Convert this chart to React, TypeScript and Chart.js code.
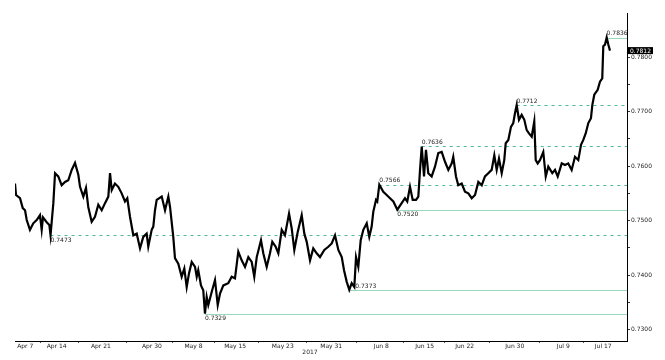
import React, { useEffect, useRef } from "react";
import { Chart, registerables } from "chart.js";
Chart.register(...registerables);

// Trading-session position (days from start) and price
const sessionX = [
  0, 0.12, 0.59, 0.91, 1.18, 1.38, 1.76, 2.15, 2.55, 2.94,
  3.14, 3.29, 3.73, 4.04, 4.18, 4.51, 4.71, 5.09, 5.49, 5.88,
  6.27, 6.67, 7.06, 7.45, 7.65, 8.04, 8.35, 8.62, 9.02, 9.41,
  9.8, 10.2, 10.59, 10.98, 11.18, 11.38, 11.76, 12.15, 12.55, 12.94,
  13.21, 13.53, 13.92, 14.32, 14.71, 15.09, 15.49, 15.68, 16.08, 16.27,
  16.47, 16.67, 17.26, 17.65, 18.04, 18.24, 18.62, 18.82, 19.21, 19.61,
  19.92, 20.2, 20.47, 20.79, 21.18, 21.38, 21.56, 21.88, 22.15, 22.35,
  22.55, 22.74, 23.14, 23.53, 23.85, 24.12, 24.51, 25.09, 25.49, 25.88,
  26.27, 26.67, 27.06, 27.45, 27.85, 28.15, 28.44, 28.94, 29.21, 29.61,
  30.0, 30.27, 30.67, 30.98, 31.38, 31.76, 32.24, 32.55, 32.86, 33.26,
  33.73, 34.04, 34.32, 34.71, 35.09, 35.49, 35.88, 36.39, 36.86, 37.26,
  37.65, 38.04, 38.44, 38.71, 39.02, 39.33, 39.61, 39.92, 40.12, 40.39,
  40.67, 40.98, 41.38, 41.68, 41.96, 42.15, 42.47, 42.62, 42.86, 43.33,
  43.73, 44.12, 44.51, 44.98, 45.49, 45.88, 46.15, 46.47, 46.79, 47.18,
  47.45, 47.65, 47.85, 48.12, 48.35, 48.62, 49.02, 49.41, 49.8, 50.2,
  50.59, 50.98, 51.38, 51.56, 51.88, 52.15, 52.55, 52.94, 53.33, 53.73,
  54.12, 54.51, 54.91, 55.29, 55.68, 56.08, 56.39, 56.67, 56.94, 57.26,
  57.56, 57.73, 58.04, 58.35, 58.62, 58.82, 59.02, 59.29, 59.61, 59.92,
  60.2, 60.47, 60.79, 61.09, 61.26, 61.49, 61.76, 62.15, 62.44, 62.74,
  63.21, 63.53, 63.85, 64.32, 64.71, 65.09, 65.49, 65.88, 66.27, 66.59,
  66.86, 67.14, 67.45, 67.76, 67.92, 68.15, 68.55, 68.82, 69.09, 69.21,
  69.41, 69.61, 69.8, 70.0,
];

const prices = [
  0.7568, 0.7547, 0.7541, 0.7523, 0.7519, 0.7501, 0.7483, 0.7495, 0.7501, 0.7510,
  0.7483, 0.7506, 0.7497, 0.7492, 0.7473, 0.7532, 0.7587, 0.7581, 0.7565, 0.7571,
  0.7574, 0.7593, 0.7606, 0.7584, 0.7562, 0.7544, 0.7560, 0.7525, 0.7498, 0.7507,
  0.7529, 0.7519, 0.7532, 0.7544, 0.7587, 0.7556, 0.7568, 0.7562, 0.7550, 0.7535,
  0.7541, 0.7507, 0.7473, 0.7476, 0.7449, 0.7470, 0.7476, 0.7452, 0.7483, 0.7489,
  0.7519, 0.7538, 0.7544, 0.7519, 0.7544, 0.7525, 0.7470, 0.7431, 0.7421, 0.7397,
  0.7412, 0.7378, 0.7403, 0.7424, 0.7415, 0.7397, 0.7409, 0.7381, 0.7372, 0.7329,
  0.7360, 0.7345, 0.7369, 0.7391, 0.7345, 0.7366, 0.7381, 0.7385, 0.7397, 0.7394,
  0.7443, 0.7427, 0.7415, 0.7433, 0.7424, 0.7397, 0.7433, 0.7464, 0.7440, 0.7415,
  0.7440, 0.7461, 0.7452, 0.7440, 0.7483, 0.7473, 0.7513, 0.7486, 0.7446, 0.7479,
  0.7510, 0.7476, 0.7461, 0.7427, 0.7449, 0.7440, 0.7433, 0.7446, 0.7452, 0.7458,
  0.7473, 0.7446, 0.7433, 0.7409, 0.7388, 0.7373, 0.7385, 0.7378, 0.7433, 0.7415,
  0.7464, 0.7483, 0.7495, 0.7470, 0.7489, 0.7516, 0.7538, 0.7535, 0.7566, 0.7553,
  0.7547, 0.7541, 0.7535, 0.7520, 0.7532, 0.7541, 0.7535, 0.7562, 0.7538, 0.7538,
  0.7544, 0.7593, 0.7636, 0.7581, 0.7630, 0.7587, 0.7581, 0.7599, 0.7624, 0.7626,
  0.7608, 0.7593, 0.7605, 0.7617, 0.7581, 0.7565, 0.7568, 0.7553, 0.7550, 0.7541,
  0.7547, 0.7571, 0.7565, 0.7581, 0.7587, 0.7593, 0.7620, 0.7593, 0.7614, 0.7587,
  0.7611, 0.7642, 0.7648, 0.7672, 0.7679, 0.7697, 0.7712, 0.7685, 0.7694, 0.7685,
  0.7666, 0.7660, 0.7654, 0.7682, 0.7611, 0.7605, 0.7611, 0.7626, 0.7581, 0.7599,
  0.7587, 0.7593, 0.7581, 0.7605, 0.7602, 0.7605, 0.7593, 0.7617, 0.7611, 0.7639,
  0.7648, 0.7660, 0.7679, 0.7688, 0.7712, 0.7731, 0.7740, 0.7755, 0.7761, 0.7820,
  0.7823, 0.7836, 0.7823, 0.7812,
];

const dateTickPositions = [1.2, 4.9, 10.1, 16.1, 21.0, 25.9, 31.5, 37.2, 43.1, 48.2, 52.9, 58.8, 64.5, 69.2];
const dateTickLabels = ["Apr 7", "Apr 14", "Apr 21", "Apr 30", "May 8", "May 15", "May 23", "May 31", "Jun 8", "Jun 15", "Jun 22", "Jun 30", "Jul 9", "Jul 17"];
const yearLabel = "2017";

const priceTicks = [0.73, 0.735, 0.74, 0.745, 0.75, 0.755, 0.76, 0.765, 0.77, 0.775, 0.78];

const levelValues = [0.7836, 0.7712, 0.7636, 0.7566, 0.7520, 0.7473, 0.7373, 0.7329];
const levelStartX = [69.6, 59.0, 47.85, 42.86, 44.98, 4.18, 39.33, 22.35];
const levelDashed = [false, true, true, true, false, true, false, false];
const levelLabelPlace = ["above", "above", "above", "above", "below", "below", "right", "below"];

const lastPrice = 0.7812;
const yMin = 0.7279;
const yMax = 0.7881;
const xMin = 0;
const xMax = 72;

const FONT = "'DejaVu Sans', sans-serif";

export default function App() {
  const canvasRef = useRef<HTMLCanvasElement | null>(null);

  useEffect(() => {
    const canvas = canvasRef.current;
    if (!canvas) return;
    const n = Math.min(sessionX.length, prices.length);
    const points = [];
    for (let i = 0; i < n; i++) points.push({ x: sessionX[i], y: prices[i] });

    const mids: number[] = [];
    for (let i = 0; i < dateTickPositions.length - 1; i++) {
      mids.push((dateTickPositions[i] + dateTickPositions[i + 1]) / 2);
    }

    const levelsPlugin = {
      id: "levels",
      beforeDatasetsDraw(chart: any) {
        const { ctx, chartArea, scales } = chart;
        const xs = scales.x, ys = scales.y;
        ctx.save();
        for (let i = 0; i < levelValues.length; i++) {
          const y = Math.round(ys.getPixelForValue(levelValues[i])) + 0.5;
          const x0 = xs.getPixelForValue(levelStartX[i]);
          ctx.beginPath();
          ctx.lineWidth = 1;
          if (levelDashed[i]) {
            ctx.setLineDash([3, 4]);
            ctx.strokeStyle = "#4fb996";
          } else {
            ctx.setLineDash([]);
            ctx.strokeStyle = "#9ad8bd";
          }
          ctx.moveTo(x0, y);
          ctx.lineTo(chartArea.right, y);
          ctx.stroke();
        }
        ctx.restore();
      },
      afterDatasetsDraw(chart: any) {
        const { ctx, chartArea, scales } = chart;
        const xs = scales.x, ys = scales.y;
        ctx.save();
        ctx.font = `6px ${FONT}`;
        ctx.fillStyle = "#222";
        ctx.textAlign = "left";
        for (let i = 0; i < levelValues.length; i++) {
          const y = ys.getPixelForValue(levelValues[i]);
          const x0 = xs.getPixelForValue(levelStartX[i]);
          const txt = levelValues[i].toFixed(4);
          if (levelLabelPlace[i] === "above") {
            ctx.textBaseline = "bottom";
            ctx.fillText(txt, x0, y - 1);
          } else if (levelLabelPlace[i] === "below") {
            ctx.textBaseline = "top";
            ctx.fillText(txt, x0, y + 2);
          } else {
            ctx.textBaseline = "bottom";
            ctx.fillText(txt, x0 + 6, y);
          }
        }
        // last price box
        const ly = ys.getPixelForValue(lastPrice);
        const bx = chartArea.right + 1;
        ctx.fillStyle = "#000";
        ctx.fillRect(bx, ly - 3.5, 25, 7);
        ctx.fillStyle = "#fff";
        ctx.textBaseline = "middle";
        ctx.font = `6px ${FONT}`;
        ctx.fillText(lastPrice.toFixed(4), bx + 2, ly + 0.5);
        // year label
        ctx.fillStyle = "#222";
        ctx.font = `6px ${FONT}`;
        ctx.textAlign = "center";
        ctx.textBaseline = "middle";
        ctx.fillText(yearLabel, (chartArea.left + chartArea.right) / 2 - 11, 352);
        ctx.restore();
      },
    };

    const chart = new Chart(canvas, {
      type: "line",
      data: {
        datasets: [
          {
            data: points,
            borderColor: "#000",
            borderWidth: 2.2,
            pointRadius: 0,
            tension: 0,
            fill: false,
          },
        ],
      },
      options: {
        animation: false,
        responsive: false,
        devicePixelRatio: 1,
        layout: { padding: { left: 15, top: 13, right: 0, bottom: 0 } },
        plugins: {
          legend: { display: false },
          tooltip: { enabled: false },
        },
        scales: {
          x: {
            type: "linear",
            position: "bottom",
            min: xMin,
            max: xMax,
            afterBuildTicks(scale: any) {
              const t = dateTickPositions.map((v) => ({ value: v }))
                .concat(mids.map((v) => ({ value: v })));
              t.sort((a, b) => a.value - b.value);
              scale.ticks = t;
            },
            afterFit(scale: any) {
              scale.height = 19;
              scale.paddingLeft = 0;
              scale.paddingRight = 0;
            },
            ticks: {
              autoSkip: false,
              maxRotation: 0,
              minRotation: 0,
              padding: 0,
              color: "#222",
              font: { family: FONT, size: 6 },
              callback(value: any) {
                const idx = dateTickPositions.indexOf(value as number);
                return idx >= 0 ? dateTickLabels[idx] : "";
              },
            },
            grid: {
              display: true,
              drawOnChartArea: false,
              drawTicks: true,
              tickLength: 2,
              tickColor: (ctx: any) => {
                const v = ctx.tick ? ctx.tick.value : null;
                return v !== null && dateTickPositions.indexOf(v) >= 0 ? "rgba(0,0,0,0)" : "#555";
              },
            },
            border: { display: true, color: "#000", width: 1 },
          },
          y: {
            type: "linear",
            position: "right",
            min: yMin,
            max: yMax,
            afterBuildTicks(scale: any) {
              scale.ticks = priceTicks.map((v) => ({ value: v }));
            },
            afterFit(scale: any) {
              scale.width = 38;
              scale.paddingTop = 0;
              scale.paddingBottom = 0;
            },
            ticks: {
              padding: 1,
              color: "#222",
              font: { family: FONT, size: 6 },
              callback(value: any) {
                const v = value as number;
                const major = Math.abs(Math.round(v * 100) - v * 100) < 1e-6;
                return major ? v.toFixed(4) : "";
              },
            },
            grid: {
              display: true,
              drawOnChartArea: false,
              drawTicks: true,
              tickLength: 3,
              tickColor: "#333",
            },
            border: { display: true, color: "#000", width: 1 },
          },
        },
      },
      plugins: [levelsPlugin],
    } as any);

    return () => chart.destroy();
  }, []);

  return (
    <div style={{ position: "fixed", left: 0, top: 0, width: 665, height: 360, background: "#fff" }}>
      <canvas ref={canvasRef} width={665} height={360} />
    </div>
  );
}
